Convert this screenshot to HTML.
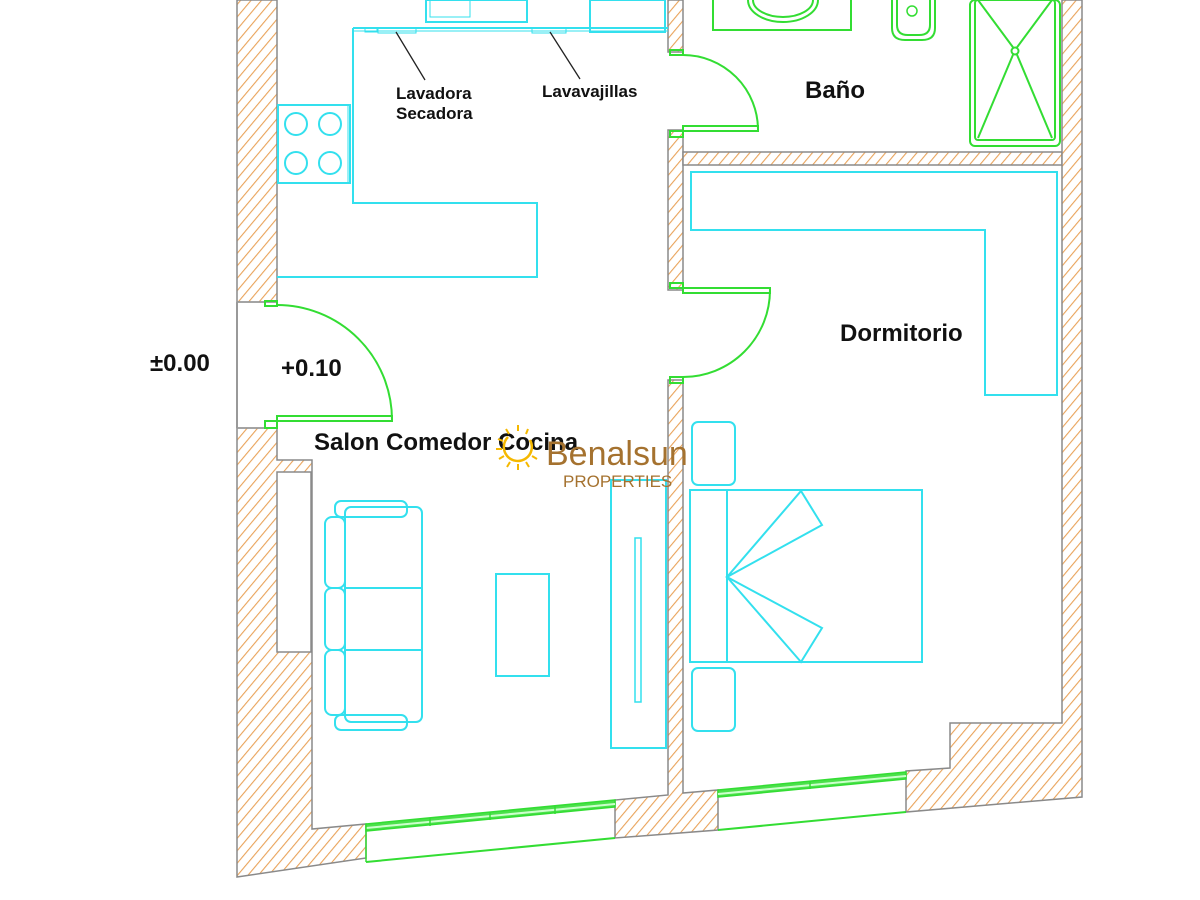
<!DOCTYPE html>
<html><head><meta charset="utf-8"><style>
html,body{margin:0;padding:0;background:#fff;}
svg{display:block;}
text{font-family:"Liberation Sans",Arial,sans-serif;font-weight:bold;fill:#111;}
</style></head><body>
<svg width="1200" height="900" viewBox="0 0 1200 900" xmlns="http://www.w3.org/2000/svg">
<defs>
<pattern id="h" patternUnits="userSpaceOnUse" width="8" height="8" patternTransform="rotate(40)">
<rect width="8" height="8" fill="#fff"/>
<line x1="0" y1="0" x2="0" y2="8" stroke="#e9a35a" stroke-width="2.2"/>
</pattern>
</defs>
<g stroke="#8a8a8a" stroke-width="1.5" fill="url(#h)">
<polygon points="237,0 277,0 277,302 237,302"/>
<polygon points="237,428 277,428 277,460 312,460 312,829 366,824 366,858 237,877"/>
<polygon points="668,0 683,0 683,52 668,52"/>
<polygon points="668,130 683,130 683,290 668,290"/>
<polygon points="668,380 683,380 683,793 718,790 718,830 615,838 615,800 668,795"/>
<polygon points="683,152 1062,152 1062,165 683,165"/>
<polygon points="1062,0 1082,0 1082,797 906,812 906,771 950,768 950,723 1062,723"/>
</g>
<rect x="277" y="472" width="34" height="180" fill="#fff" stroke="#8a8a8a" stroke-width="1.5"/>
<line x1="237" y1="302" x2="237" y2="428" stroke="#999" stroke-width="2"/>
<line x1="237" y1="302" x2="277" y2="302" stroke="#999" stroke-width="1.5"/>
<line x1="237" y1="428" x2="277" y2="428" stroke="#999" stroke-width="1.5"/>

<g stroke="#33dd33" fill="none" stroke-width="1.5">
<polygon points="366,824 615,800 615,807 366,831" fill="#4be04b"/>
<line x1="366" y1="828" x2="615" y2="804" stroke="#ccffcc" stroke-width="2"/>
<line x1="366" y1="862" x2="615" y2="838" stroke-width="2"/>
<line x1="366" y1="824" x2="366" y2="862"/>
<line x1="430" y1="818" x2="430" y2="826"/><line x1="490" y1="812" x2="490" y2="820"/><line x1="555" y1="806" x2="555" y2="814"/>
<polygon points="718,790 906,772 906,779 718,797" fill="#4be04b"/>
<line x1="718" y1="794" x2="906" y2="776" stroke="#ccffcc" stroke-width="2"/>
<line x1="718" y1="830" x2="906" y2="812" stroke-width="2"/>
<line x1="810" y1="781" x2="810" y2="789"/>
</g>

<g stroke="#33dd33" fill="none" stroke-width="2">
<path d="M392,420 A115,115 0 0 0 277,305"/>
<rect x="277" y="416" width="115" height="5"/>
<rect x="265" y="301" width="12" height="5"/><rect x="265" y="421" width="12" height="7"/>
<path d="M758,130 A75,75 0 0 0 683,55"/>
<rect x="683" y="126" width="75" height="5"/>
<rect x="670" y="50" width="13" height="5"/><rect x="670" y="131" width="13" height="6"/>
<path d="M770,290 A87,87 0 0 1 683,377"/>
<rect x="683" y="288" width="87" height="5"/>
<rect x="670" y="283" width="13" height="5"/><rect x="670" y="377" width="13" height="6"/>
</g>

<g stroke="#33dd33" fill="none" stroke-width="2">
<polyline points="713,0 713,30 851,30 851,0"/>
<path d="M748,0 A35,22 0 0 0 818,0"/>
<path d="M753,0 A30,17 0 0 0 813,0"/>
<path d="M892,0 L892,28 Q892,40 905,40 L922,40 Q935,40 935,28 L935,0"/>
<path d="M897,0 L897,25 Q897,35 908,35 L919,35 Q930,35 930,25 L930,0"/>
<ellipse cx="912" cy="11" rx="5" ry="5" stroke-width="1.5"/>
<rect x="970" y="0" width="90" height="146" rx="5"/>
<rect x="975" y="0" width="80" height="140" rx="3"/>
<line x1="978" y1="0" x2="1015" y2="50"/><line x1="1052" y1="0" x2="1015" y2="50"/>
<line x1="1015" y1="50" x2="978" y2="138"/><line x1="1015" y1="50" x2="1052" y2="138"/>
<circle cx="1015" cy="51" r="3.5" fill="#fff"/>
</g>

<g stroke="#33e0ee" fill="none" stroke-width="2">
<polyline points="353,28 668,28"/>
<line x1="353" y1="31" x2="668" y2="31" stroke-width="1"/>
<polyline points="353,28 353,203 537,203 537,277 277,277"/>
<rect x="278" y="105" width="72" height="78"/>
<line x1="348" y1="105" x2="348" y2="183" stroke-width="1"/>
<circle cx="296" cy="124" r="11"/><circle cx="330" cy="124" r="11"/>
<circle cx="296" cy="163" r="11"/><circle cx="330" cy="163" r="11"/>
<rect x="426" y="0" width="101" height="22"/>
<rect x="430" y="0" width="40" height="17" stroke-width="1"/>
<rect x="590" y="0" width="75" height="32"/>
<rect x="365" y="28" width="12" height="4" stroke-width="1"/><rect x="378" y="28" width="38" height="5" stroke-width="1"/>
<rect x="532" y="28" width="34" height="5" stroke-width="1"/>
<polygon points="691,172 1057,172 1057,395 985,395 985,230 691,230"/>
<rect x="690" y="490" width="232" height="172"/>
<line x1="727" y1="490" x2="727" y2="662"/>
<polyline points="727,577 801,491 822,525 727,577 822,628 801,662 727,577"/>
<rect x="692" y="422" width="43" height="63" rx="6"/>
<rect x="692" y="668" width="43" height="63" rx="6"/>
<rect x="335" y="501" width="72" height="16" rx="6"/>
<rect x="335" y="715" width="72" height="15" rx="6"/>
<rect x="345" y="507" width="77" height="215" rx="6"/>
<line x1="345" y1="588" x2="422" y2="588"/><line x1="345" y1="650" x2="422" y2="650"/>
<rect x="325" y="517" width="20" height="71" rx="7"/>
<rect x="325" y="588" width="20" height="62" rx="7"/>
<rect x="325" y="650" width="20" height="65" rx="7"/>
<rect x="496" y="574" width="53" height="102"/>
<rect x="611" y="480" width="55" height="268"/>
<rect x="635" y="538" width="6" height="164" stroke-width="1.5"/>
</g>

<line x1="396" y1="32" x2="425" y2="80" stroke="#222" stroke-width="1.3"/>
<line x1="550" y1="32" x2="580" y2="79" stroke="#222" stroke-width="1.3"/>

<text x="396" y="99" font-size="17">Lavadora</text>
<text x="396" y="119" font-size="17">Secadora</text>
<text x="542" y="97" font-size="17">Lavavajillas</text>
<text x="805" y="98" font-size="24">Baño</text>
<text x="840" y="341" font-size="24">Dormitorio</text>
<text x="150" y="371" font-size="24">±0.00</text>
<text x="281" y="376" font-size="24">+0.10</text>
<text x="314" y="450" font-size="24">Salon Comedor Cocina</text>

<g stroke="#f5b800" stroke-width="2" fill="none">
<path d="M508,437 A14,14 0 1 0 530,440" stroke-width="2.5"/>
<line x1="518" y1="425" x2="518" y2="431"/><line x1="506" y1="429" x2="509" y2="434"/>
<line x1="498" y1="439" x2="503" y2="441"/><line x1="496" y1="449" x2="502" y2="449"/>
<line x1="499" y1="459" x2="504" y2="456"/><line x1="507" y1="467" x2="510" y2="462"/>
<line x1="518" y1="470" x2="518" y2="464"/><line x1="529" y1="467" x2="526" y2="462"/>
<line x1="537" y1="459" x2="532" y2="456"/><line x1="528" y1="429" x2="526" y2="434"/>
</g>
<text x="546" y="465" font-size="34" style="font-weight:normal;fill:#a5722f">Benalsun</text>
<text x="563" y="487" font-size="17" style="font-weight:normal;fill:#a5722f">PROPERTIES</text>
</svg>
</body></html>
